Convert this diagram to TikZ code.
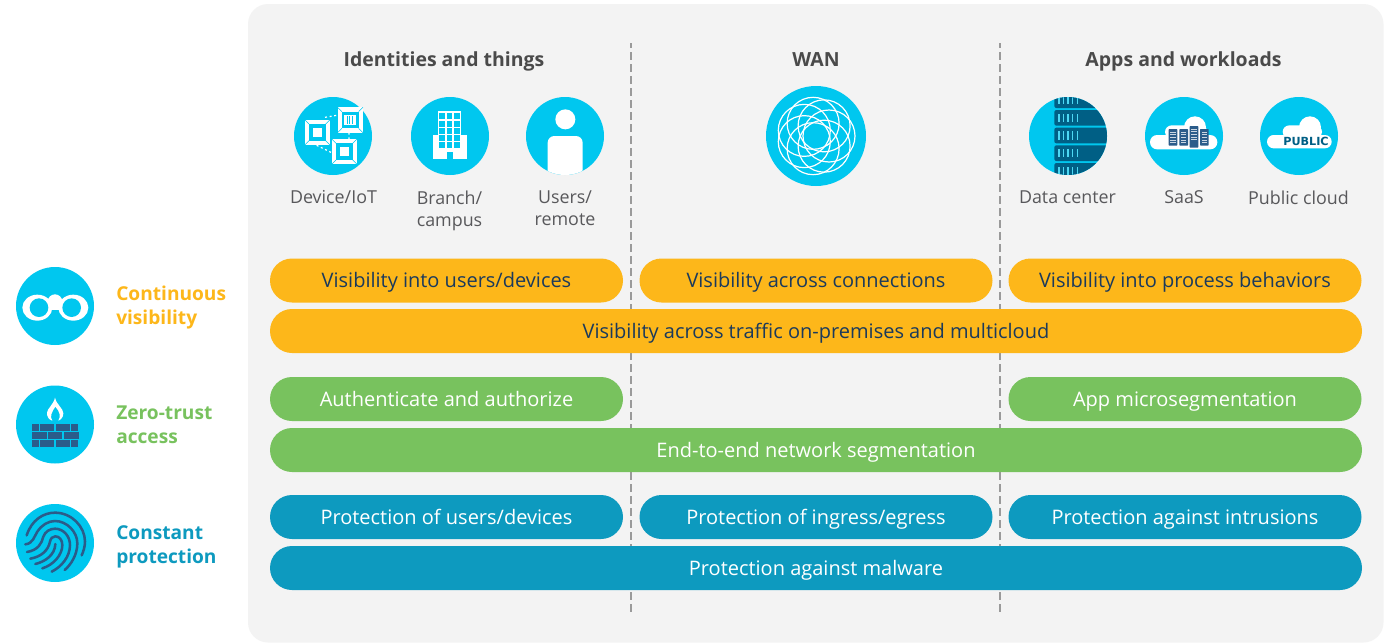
\documentclass[tikz,border=0pt]{standalone}
\usepackage{fontspec}
\setmainfont{Open Sans}
\newfontfamily\pubfont{DejaVu Sans}
\definecolor{panelgray}{HTML}{F3F3F3}
\definecolor{iconcyan}{HTML}{00C7EF}
\definecolor{iconnavy}{HTML}{2B5C8A}
\definecolor{racknavy}{HTML}{005F85}
\definecolor{barorange}{HTML}{FDB71A}
\definecolor{bargreen}{HTML}{78C25E}
\definecolor{barblue}{HTML}{0D9ABF}
\definecolor{titlegray}{HTML}{4A4A4A}
\definecolor{labelgray}{HTML}{58585B}
\definecolor{bardark}{HTML}{1B3A5C}
\definecolor{dashgray}{HTML}{9A9A9A}
\tikzset{
  x=0.75pt,y=-0.75pt,
  barbase/.style={rectangle,rounded corners=16.5pt,minimum height=33pt,inner sep=0pt,anchor=center,text height=13.6pt,text depth=3pt,font=\fontsize{15}{17}\selectfont},
  orangebar/.style={barbase,fill=barorange,text=bardark},
  greenbar/.style={barbase,fill=bargreen,text=white},
  bluebar/.style={barbase,fill=barblue,text=white},
  colw/.style={minimum width=264.75pt},
  fullw/.style={minimum width=819pt},
  coltitle/.style={font=\fontsize{14.6}{17}\selectfont\bfseries,text=titlegray,inner sep=0pt,text height=13pt,text depth=3pt},
  iconlabel/.style={font=\fontsize{13.4}{16.5}\selectfont,text=labelgray,align=center,inner sep=0pt,anchor=north},
  sidelabel/.style={font=\fontsize{14.35}{18}\selectfont\bfseries,align=left,inner sep=0pt,anchor=west},
  iconcircle/.style={circle,fill=iconcyan,inner sep=0pt,minimum size=58.5pt},
  divider/.style={draw=dashgray,line width=1.5pt,dash pattern=on 6pt off 3pt,dash phase=2.25pt},
  zoomed/.style={x=0.25pt,y=-0.25pt},
}
\newcommand{\chipicon}[2]{%
  \begin{scope}[shift={(#1,#2)}]
    \fill[white] (-38,-38) rectangle (38,38);
    \fill[iconcyan] (-25,-25) rectangle (25,25);
    \fill[white] (-14,-14) rectangle (14,14);
    \draw[iconcyan,line width=0.4pt] (-38,-38)--(-25,-25) (38,-38)--(25,-25) (-38,38)--(-25,25) (38,38)--(25,25);
  \end{scope}}
\newcommand{\brick}[4]{\fill[iconnavy] (#1,#3) rectangle (#2,#4);}
\begin{document}
\begin{tikzpicture}
\useasboundingbox (0,0) rectangle (1385,643);
\fill[white] (0,0) rectangle (1385,643);
\fill[panelgray,rounded corners=15pt] (248,4) rectangle (1383.5,642.5);

\coordinate (d1top) at (631,43); \coordinate (d1bot) at (631,612);
\coordinate (d2top) at (1000,43); \coordinate (d2bot) at (1000,612);
\draw[divider] (d1top) -- (d1bot);
\draw[divider] (d2top) -- (d2bot);

\node[coltitle] (t1) at (444,59.5) {Identities and things};
\node[coltitle] (t2) at (816,59.5) {WAN};
\node[coltitle] (t3) at (1183.5,59.5) {Apps and workloads};

% icon circles
\node[iconcircle] (device) at (333,136) {};
\node[iconcircle] (branch) at (450,136) {};
\node[iconcircle] (users) at (565,136) {};
\node[iconcircle,minimum size=75pt] (wan) at (816,136) {};
\node[iconcircle] (dc) at (1068,136) {};
\node[iconcircle] (saas) at (1184,136) {};
\node[iconcircle] (public) at (1299,136) {};
\node[iconcircle] (bino) at (55,306) {};
\node[iconcircle] (fire) at (55,424.5) {};
\node[iconcircle] (finger) at (55,543) {};

% device icon
\begin{scope}[shift={(280,90)},zoomed]
  \draw[white,line width=0.9pt,dash pattern=on 1.5pt off 2pt] (135,82)--(170,76) (207,128)--(207,148) (110,166)--(155,188);
  \chipicon{112}{127}
  \chipicon{211}{90}
  \chipicon{193}{185}
  \fill[iconcyan] (188,68) rectangle (234,112);
  \fill[white] (193,75) rectangle (229,105);
  \foreach \xx in {200,208,216}{\fill[iconcyan] (\xx,79) rectangle (\xx+3,101);}
\end{scope}

% building icon
\begin{scope}[shift={(280,90)},zoomed]
  \fill[white] (474,64) rectangle (544,135);
  \fill[white] (459,135) rectangle (560,208);
  \foreach \ya/\yb in {69/88,92/110,113/132,135/153,156/175}{
    \foreach \xa/\xb in {477/495,501/517,522/541}{
      \fill[iconcyan] (\xa,\ya) rectangle (\xb,\yb);}}
  \fill[iconcyan] (500,186) rectangle (520,208);
\end{scope}

% user icon
\begin{scope}
  \clip (users.center) circle (39);
  \begin{scope}[shift={(280,90)},zoomed]
    \fill[white] (856,88) circle (30);
    \fill[white,rounded corners=5pt] (803,300) -- (803,138) -- (908,138) -- (908,300) -- cycle;
  \end{scope}
\end{scope}

% WAN icon
\foreach \a in {0,51.43,...,340}{
  \draw[white,line width=0.9pt] (wan.center) ++(\a:13) circle (26);
}

% data centre icon
\begin{scope}
  \clip (dc.center) circle (39);
  \begin{scope}[shift={(1020,90)},zoomed]
    \foreach \yy in {7,60,113,166,219}{
      \fill[racknavy,rounded corners=1.5pt] (103,\yy) rectangle (300,\yy+47);
      \foreach \xx in {115,128,142,156,170}{
        \fill[iconcyan!70!white] (\xx,\yy+11) rectangle (\xx+4,\yy+36);}
    }
  \end{scope}
\end{scope}

% SaaS icon
\begin{scope}[shift={(1020,90)},zoomed]
  \fill[white,rounded corners=5.3pt] (390,135) rectangle (592,178);
  \fill[white] (525,112) circle (33);
  \fill[white,rounded corners=5pt] (435,106) rectangle (562,145);
  \foreach \xa/\xb/\ya/\yb in {446/472/117/167,478/504/117/167,509/535/108/173,540/566/117/167}{
    \fill[iconnavy,rounded corners=0.5pt] (\xa,\ya) rectangle (\xb,\yb);
    \foreach \yy in {0,1,2,3,4}{
      \fill[white!75!iconnavy] (\xa+5,\ya+8+\yy*8) rectangle (\xb-5,\ya+11+\yy*8);}
  }
\end{scope}

% public cloud icon
\begin{scope}[shift={(1020,90)},zoomed]
  \fill[white,rounded corners=5pt] (741,135) rectangle (935,175);
  \fill[white] (870,112) circle (33);
  \fill[white,rounded corners=5pt] (788,106) rectangle (906,145);
  \node[inner sep=0pt,font=\pubfont\fontsize{8.4}{10}\selectfont\bfseries,text=racknavy] (pubtext) at (858,155.5) {PUBLIC};
\end{scope}

% binoculars icon
\begin{scope}[shift={(0,260)},zoomed]
  \fill[white] (165,125) circle (22);
  \fill[white] (112,143) ellipse (45 and 39);
  \fill[white] (220,143) ellipse (45 and 39);
  \fill[white] (130,125) rectangle (200,150);
  \fill[iconcyan] (117,143) circle (28);
  \fill[iconcyan] (215,143) circle (28);
\end{scope}

% firewall icon
\begin{scope}[shift={(0,260)},zoomed]
  \fill[white] (165,413) .. controls (170,435) and (190,445) .. (190,460)
     .. controls (190,472) and (182,480) .. (175,482)
     .. controls (183,470) and (180,455) .. (166,440)
     .. controls (156,455) and (148,470) .. (157,482)
     .. controls (148,480) and (140,470) .. (141,458)
     .. controls (142,445) and (160,435) .. (165,413) -- cycle;
  \brick{96}{117}{492}{514}\brick{120}{162}{492}{514}\brick{168}{210}{492}{514}\brick{213}{234}{492}{514}
  \brick{96}{141}{516}{538}\brick{144}{186}{516}{538}\brick{192}{237}{516}{538}
  \brick{96}{117}{540}{561}\brick{120}{162}{540}{561}\brick{168}{210}{540}{561}\brick{213}{234}{540}{561}
\end{scope}

% fingerprint icon
\begin{scope}[shift={(0,260)},zoomed]
  \begin{scope}[draw=iconnavy,line width=1.9pt,line cap=round]
    \draw (80,826) .. controls (95,780) and (130,758) .. (165,758)
       .. controls (215,758) and (255,800) .. (255,845) .. controls (255,860) and (250,875) .. (245,886);
    \draw (76,853) .. controls (100,850) and (102,830) .. (112,815)
       .. controls (125,795) and (145,783) .. (165,783)
       .. controls (200,783) and (232,815) .. (232,850) .. controls (232,885) and (212,915) .. (194,930);
    \draw (81,876) .. controls (115,870) and (125,850) .. (130,830)
       .. controls (135,815) and (150,806) .. (165,806)
       .. controls (190,806) and (210,828) .. (210,855) .. controls (210,890) and (185,920) .. (155,935);
    \draw (91,896) .. controls (125,890) and (145,870) .. (150,845)
       .. controls (152,835) and (158,829) .. (166,829)
       .. controls (178,829) and (187,840) .. (187,855) .. controls (187,885) and (160,915) .. (127,925);
    \draw (106,912) .. controls (135,905) and (165,885) .. (166,852);
  \end{scope}
\end{scope}

% icon labels
\node[iconlabel] (ldev) at (333.5,190.5) {Device/IoT};
\node[iconlabel] (lbra) at (449.5,190.5) {Branch/\\campus};
\node[iconlabel] (lusr) at (565,190.5) {Users/\\remote};
\node[iconlabel] (ldc) at (1067.5,190.5) {Data center};
\node[iconlabel] (lsa) at (1184,190.5) {SaaS};
\node[iconlabel] (lpu) at (1298.5,190.5) {Public cloud};

% side labels
\node[sidelabel,text=barorange] (s1) at (116,307.5) {Continuous\\visibility};
\node[sidelabel,text=bargreen] (s2) at (116,424.5) {Zero-trust\\access};
\node[sidelabel,text=barblue] (s3) at (116,546.5) {Constant\\protection};

% bars
\node[orangebar,colw] (o1) at (446.5,280.5) {Visibility into users/devices};
\node[orangebar,colw] (o2) at (816,280.5) {Visibility across connections};
\node[orangebar,colw] (o3) at (1185,280.5) {Visibility into process behaviors};
\node[orangebar,fullw] (o4) at (816,331) {Visibility across traffic on-premises and multicloud};
\node[greenbar,colw] (g1) at (446.5,399) {Authenticate and authorize};
\node[greenbar,colw] (g3) at (1185,399) {App microsegmentation};
\node[greenbar,fullw] (g4) at (816,450) {End-to-end network segmentation};
\node[bluebar,colw] (b1) at (446.5,517) {Protection of users/devices};
\node[bluebar,colw] (b2) at (816,517) {Protection of ingress/egress};
\node[bluebar,colw] (b3) at (1185,517) {Protection against intrusions};
\node[bluebar,fullw] (b4) at (816,568) {Protection against malware};
\end{tikzpicture}
\end{document}
